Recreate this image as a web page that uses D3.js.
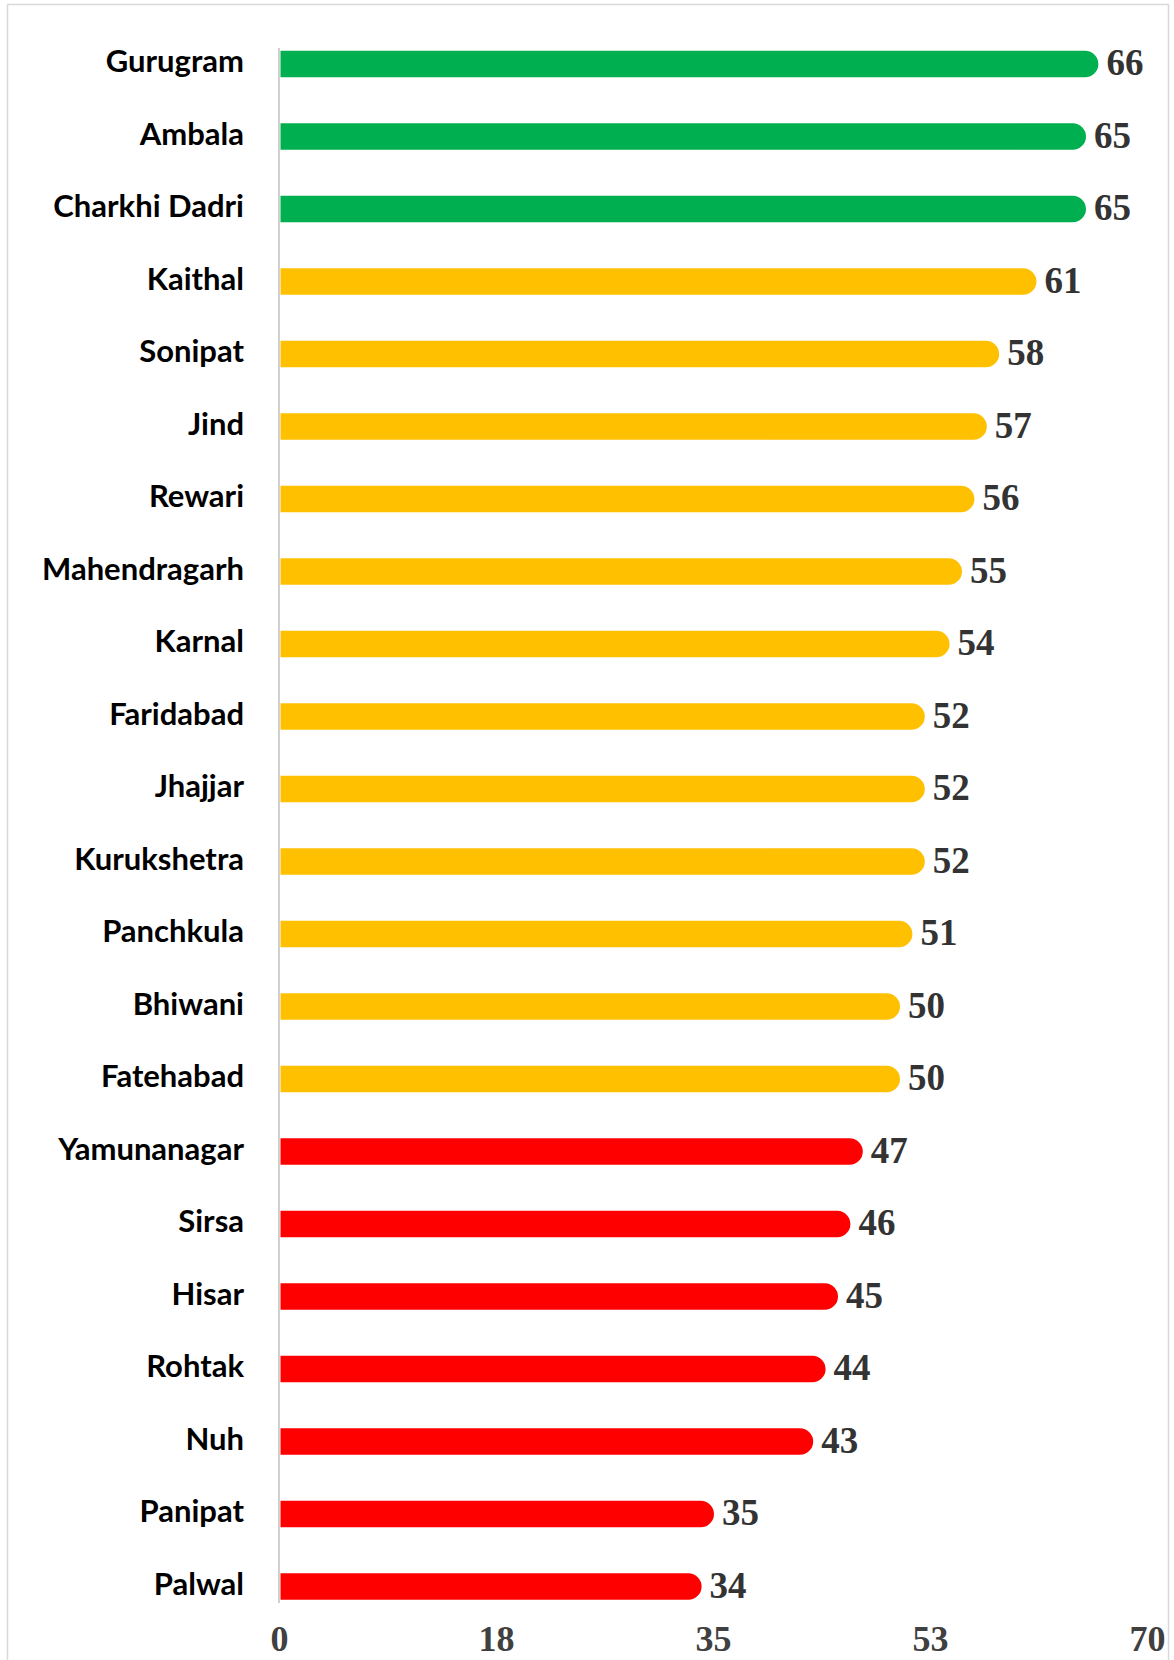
<!DOCTYPE html>
<html>
<head>
<meta charset="utf-8">
<script src="https://cdn.jsdelivr.net/npm/d3@7"></script>
<style>
  html, body { margin: 0; padding: 0; background: #fff; }
  svg { display: block; }
</style>
</head>
<body>
<svg id="chart" width="1174" height="1660"></svg>
<script>
const districts = ["Gurugram","Ambala","Charkhi Dadri","Kaithal","Sonipat","Jind","Rewari","Mahendragarh","Karnal","Faridabad","Jhajjar","Kurukshetra","Panchkula","Bhiwani","Fatehabad","Yamunanagar","Sirsa","Hisar","Rohtak","Nuh","Panipat","Palwal"];
const scores = [66,65,65,61,58,57,56,55,54,52,52,52,51,50,50,47,46,45,44,43,35,34];
const bands = ["green","green","green","yellow","yellow","yellow","yellow","yellow","yellow","yellow","yellow","yellow","yellow","yellow","yellow","red","red","red","red","red","red","red"];
const tickValues = [0, 17.5, 35, 52.5, 70];
const tickLabels = ["0", "18", "35", "53", "70"];

const bandColor = { green: "#00B050", yellow: "#FFC000", red: "#FF0000" };

const svg = d3.select("#chart");

// outer border
svg.append("rect")
  .attr("x", 7.5).attr("y", 4.5)
  .attr("width", 1161).attr("height", 1670)
  .attr("fill", "none").attr("stroke", "#d9d9d9").attr("stroke-width", 1.5);

const x = d3.scaleLinear().domain([0, 70]).range([279, 1147]);
const y = d3.scalePoint().domain(districts).range([64, 1586.5]);
const barH = 26.5;

const data = districts.map((d, i) => ({ name: d, value: scores[i], band: bands[i] }));

// bars: square left end, rounded right end
function barPath(d) {
  const x0 = x(0) + 1.5, x1 = x(d.value) + 1;
  const yc = y(d.name), r = barH / 2;
  const yt = yc - r, yb = yc + r;
  return `M${x0},${yt} L${x1 - r},${yt} A${r},${r} 0 0 1 ${x1 - r},${yb} L${x0},${yb} Z`;
}

svg.append("g").selectAll("path")
  .data(data).join("path")
  .attr("d", barPath)
  .attr("fill", d => bandColor[d.band]);

// vertical axis line
const yr = y.range();
svg.append("line")
  .attr("x1", x(0)).attr("x2", x(0))
  .attr("y1", yr[0] - 16).attr("y2", yr[1] + 16.5)
  .attr("stroke", "#d0d0d0").attr("stroke-width", 2);

// category labels
svg.append("g").selectAll("text")
  .data(data).join("text")
  .attr("x", 244)
  .attr("y", d => y(d.name) + 8)
  .attr("text-anchor", "end")
  .attr("font-family", "Lato, 'Open Sans', sans-serif")
  .attr("font-weight", "bold")
  .attr("font-size", 31)
  .attr("fill", "#000")
  .text(d => d.name);

// value labels
svg.append("g").selectAll("text")
  .data(data).join("text")
  .attr("x", d => x(d.value) + 9)
  .attr("y", d => y(d.name) + 11)
  .attr("font-family", "'Liberation Serif', 'Times New Roman', serif")
  .attr("font-weight", "bold")
  .attr("font-size", 37)
  .attr("fill", "#333333")
  .text(d => d.value);

// x axis tick labels
const xAxis = d3.axisBottom(x)
  .tickValues(tickValues)
  .tickFormat((v, i) => tickLabels[i])
  .tickSize(0)
  .tickPadding(0);

const gx = svg.append("g")
  .attr("transform", `translate(0, ${yr[1] + 39})`)
  .call(xAxis);
gx.select(".domain").remove();
gx.selectAll("text")
  .attr("font-family", "'Liberation Serif', 'Times New Roman', serif")
  .attr("font-weight", "bold")
  .attr("font-size", 36)
  .attr("fill", "#404040");
</script>
</body>
</html>
